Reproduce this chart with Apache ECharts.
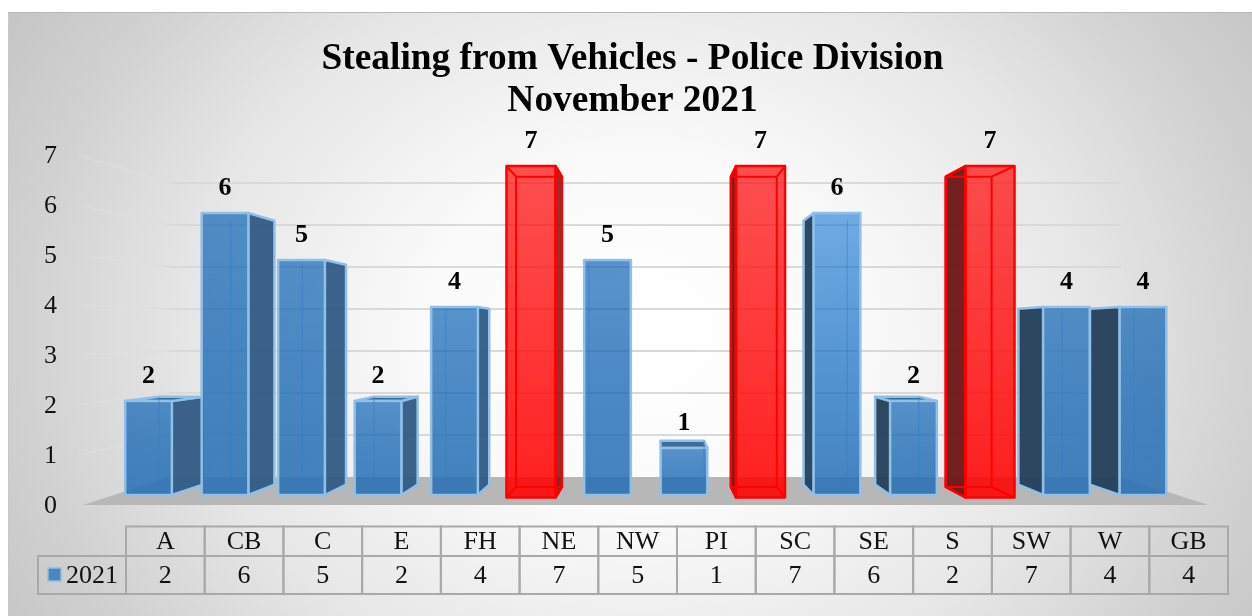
<!DOCTYPE html>
<html>
<head>
<meta charset="utf-8">
<script src="https://cdn.jsdelivr.net/npm/echarts@6/dist/echarts.min.js"></script>
<style>
html, body { margin: 0; padding: 0; background: #fff; }
#panel {
    position: absolute; left: 8px; top: 12px; width: 1244px; height: 604px;
    box-sizing: border-box; border-top: 1px solid #b8b8b8; border-left: 1px solid #c8c8c8;
    background: radial-gradient(ellipse 730px 600px at 632px 320px, #fff 0, #fafafa 30%, #e6e6e6 62%, #d2d2d2 84%, #bdbdbd 112%);
}
#main { position: absolute; left: 0; top: 0; width: 1252px; height: 616px; }
</style>
</head>
<body>
<div id="panel"></div>
<div id="main"></div>
<script>
var categories = ['A', 'CB', 'C', 'E', 'FH', 'NE', 'NW', 'PI', 'SC', 'SE', 'S', 'SW', 'W', 'GB'];
var values = [2, 6, 5, 2, 4, 7, 5, 1, 7, 6, 2, 7, 4, 4];
var yTicks = [0, 1, 2, 3, 4, 5, 6, 7];
var seriesName = '2021';
var titleText = 'Stealing from Vehicles - Police Division\nNovember 2021';

var serif = '"Liberation Serif", "Times New Roman", serif';
var textColor = '#111';

// front plane of the bars -> back plane
function barBack(p) {
    return [656 + 0.936 * (p[0] - 656), 333 + 0.936 * (p[1] - 333)];
}
// outer edge of the floor -> back wall
function wallBack(p) {
    return [645.5 + 0.846 * (p[0] - 645.5), 330 + 0.84 * (p[1] - 330)];
}

function renderWall(params, api) {
    var v = api.value(1);
    var left = api.coord([0, v]);
    var right = api.coord([1, v]);
    var bl = wallBack(left);
    var br = wallBack(right);
    var children = [];
    if (v === 0) {
        children.push({
            type: 'polygon',
            shape: { points: [left, bl, br, right] },
            style: { fill: '#b7b7b7' }
        });
    } else {
        children.push({
            type: 'line',
            shape: { x1: bl[0], y1: bl[1], x2: br[0], y2: br[1] },
            style: { stroke: '#d9d9d9', lineWidth: 2 }
        });
        children.push({
            type: 'line',
            shape: { x1: left[0] - 5, y1: left[1], x2: bl[0], y2: bl[1] },
            style: {
                stroke: new echarts.graphic.LinearGradient(0, 0, 1, 0, [
                    { offset: 0, color: 'rgba(228,228,228,0.2)' },
                    { offset: 1, color: '#dcdcdc' }
                ]),
                lineWidth: 2
            }
        });
    }
    // tick label, a little lower than the axis would put it
    children.push({
        type: 'text',
        style: {
            text: String(v),
            x: left[0] - 26, y: left[1] + 1,
            align: 'right', verticalAlign: 'middle',
            font: '26px ' + serif,
            fill: textColor
        }
    });
    return { type: 'group', children: children };
}

function renderBar(params, api) {
    var i = api.value(0);
    var v = api.value(1);
    var red = v === 7;
    var w = api.size([1, 0])[0] * 0.61;
    var c = api.coord([i, v]);
    var b = api.coord([i, 0]);
    var grow = red ? 1.2 : 0;
    var x0 = c[0] - w / 2 - grow, x1 = c[0] + w / 2 + grow;
    var y0 = c[1], y1 = b[1] + (red ? 2.5 : 0);
    var fTL = [x0, y0], fTR = [x1, y0], fBR = [x1, y1], fBL = [x0, y1];
    var bTL = barBack(fTL), bTR = barBack(fTR), bBR = barBack(fBR), bBL = barBack(fBL);
    var edge = red ? '#ff0000' : '#90bfe8';
    var lw = 2.5;
    var children = [];

    function face(pts, fill) {
        children.push({
            type: 'polygon',
            shape: { points: pts },
            style: { fill: fill, stroke: edge, lineWidth: lw, lineJoin: 'round' }
        });
    }

    if (bTR[0] > x1 + 2) {
        face([fTR, bTR, bBR, fBR], red ? 'rgba(110,20,20,0.85)' : 'rgba(48,90,132,0.95)');
    }
    if (bTL[0] < x0 - 2) {
        face([fTL, bTL, bBL, fBL], red ? 'rgba(110,20,20,0.95)' : 'rgba(36,62,90,0.95)');
    }
    if (bTL[1] < y0) {
        face([fTL, bTL, bTR, fTR], red ? 'rgba(255,0,0,0.8)' : 'rgba(48,100,150,0.95)');
    }
    var frontFill;
    if (red) {
        frontFill = new echarts.graphic.LinearGradient(0, 0, 0, 1, [
            { offset: 0, color: 'rgba(255,20,20,0.74)' },
            { offset: 1, color: 'rgba(255,0,0,0.88)' }
        ]);
    } else {
        frontFill = new echarts.graphic.LinearGradient(0, 0, 0, 1, [
            { offset: 0, color: i === 9 ? 'rgba(0,107,209,0.55)' : 'rgba(0,90,177,0.65)' },
            { offset: 1, color: 'rgba(42,113,180,0.88)' }
        ]);
    }
    face([fTL, fTR, fBR, fBL], frontFill);

    // back edges show through the glassy front
    var lines = red
        ? [[bTL, bTR], [bTR, bBR], [bBR, bBL], [bBL, bTL], [fTL, bTL], [fTR, bTR], [fBL, bBL], [fBR, bBR]]
        : [[bTL, bBL], [bTR, bBR]].filter(function (s) { return s[0][0] > x0 + 1 && s[0][0] < x1 - 1; });
    lines.forEach(function (s) {
        children.push({
            type: 'line',
            shape: { x1: s[0][0], y1: s[0][1], x2: s[1][0], y2: s[1][1] },
            style: { stroke: red ? '#ff0000' : 'rgba(50,125,195,0.4)', lineWidth: red ? 2 : 1.5 }
        });
    });

    children.push({
        type: 'text',
        style: {
            text: String(v),
            x: c[0], y: c[1] - 25,
            align: 'center', verticalAlign: 'middle',
            font: 'bold 26px ' + serif,
            fill: '#000'
        }
    });
    return { type: 'group', children: children };
}

function renderTable(params, api) {
    var i = api.value(0);
    var cs = params.coordSys;
    var cw = api.size([1, 0])[0];
    var cx = api.coord([i, 0])[0];
    var split = cs.y + cs.height * 0.437;
    var border = { fill: 'rgba(255,255,255,0)', stroke: '#a9a9a9', lineWidth: 2 };
    var font = '26px ' + serif;
    var children = [
        { type: 'rect', shape: { x: cx - cw / 2, y: cs.y, width: cw, height: split - cs.y }, style: border },
        { type: 'rect', shape: { x: cx - cw / 2, y: split, width: cw, height: cs.y + cs.height - split }, style: border },
        { type: 'text', style: { text: categories[i], x: cx, y: (cs.y + split) / 2 + 1, align: 'center', verticalAlign: 'middle', font: font, fill: textColor } },
        { type: 'text', style: { text: String(api.value(1)), x: cx, y: (split + cs.y + cs.height) / 2 + 1, align: 'center', verticalAlign: 'middle', font: font, fill: textColor } }
    ];
    if (i === 0) {
        var midY = (split + cs.y + cs.height) / 2;
        children.push(
            { type: 'rect', shape: { x: cs.x - 88, y: split, width: 88, height: cs.y + cs.height - split }, style: border },
            { type: 'rect', shape: { x: cs.x - 78, y: midY - 7, width: 13, height: 13 }, style: { fill: '#4a86c0', stroke: '#90bfe8', lineWidth: 1.5 } },
            { type: 'text', style: { text: seriesName, x: cs.x - 60, y: midY + 1, align: 'left', verticalAlign: 'middle', font: font, fill: textColor } }
        );
    }
    return { type: 'group', children: children };
}

var mychart = echarts.init(document.getElementById('main'));
mychart.setOption({
    animation: false,
    backgroundColor: 'transparent',
    title: {
        text: titleText,
        left: 627.5,
        top: 33,
        textAlign: 'center',
        textStyle: {
            fontFamily: serif,
            fontWeight: 'bold',
            fontSize: 37.4,
            lineHeight: 42,
            color: '#000'
        }
    },
    grid: [
        { left: 110.25, top: 166, width: 1071, height: 329 },
        { left: 83, top: 155, width: 1125, height: 350 },
        { left: 126, top: 526.5, width: 1102, height: 67.5 }
    ],
    xAxis: [
        { gridIndex: 0, type: 'category', data: categories, show: false },
        { gridIndex: 1, type: 'value', min: 0, max: 1, show: false },
        { gridIndex: 2, type: 'category', data: categories, show: false }
    ],
    yAxis: [
        { gridIndex: 0, type: 'value', min: 0, max: 7, show: false },
        { gridIndex: 1, type: 'value', min: 0, max: 7, interval: 1, show: false },
        { gridIndex: 2, type: 'value', min: 0, max: 1, show: false }
    ],
    series: [
        {
            type: 'custom',
            xAxisIndex: 1,
            yAxisIndex: 1,
            z: 1,
            clip: false,
            silent: true,
            renderItem: renderWall,
            data: yTicks.map(function (v) { return [0, v]; })
        },
        {
            type: 'custom',
            name: seriesName,
            xAxisIndex: 0,
            yAxisIndex: 0,
            z: 2,
            clip: false,
            renderItem: renderBar,
            data: values.map(function (v, i) { return [i, v]; })
        },
        {
            type: 'custom',
            xAxisIndex: 2,
            yAxisIndex: 2,
            z: 3,
            clip: false,
            silent: true,
            renderItem: renderTable,
            data: values.map(function (v, i) { return [i, v]; })
        }
    ]
});
</script>
</body>
</html>
